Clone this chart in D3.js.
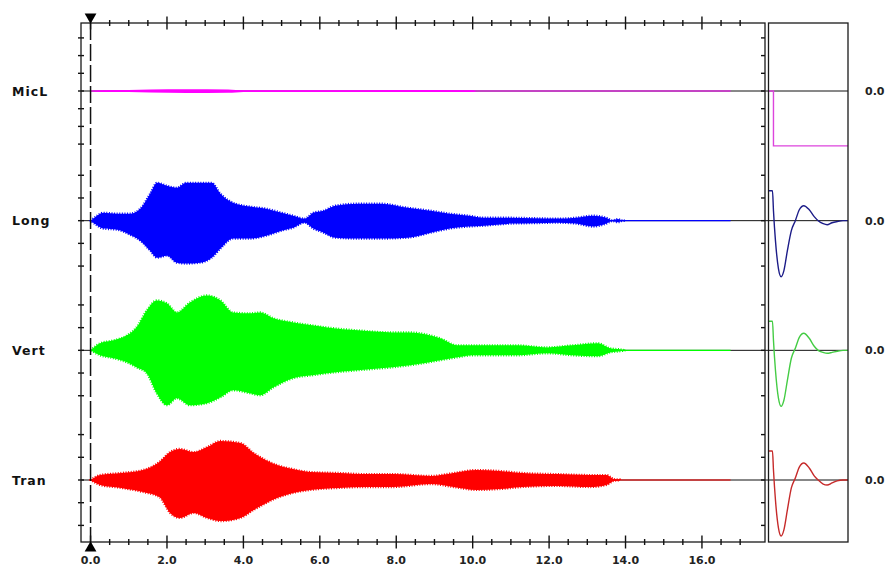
<!DOCTYPE html>
<html>
<head>
<meta charset="utf-8">
<script src="https://d3js.org/d3.v7.min.js"></script>
<style>
    body { margin: 0; background: #fff; }
    svg { display: block; }
    .chanLabel { font-family: "DejaVu Sans", Verdana, sans-serif; font-weight: bold; font-size: 12.5px; fill: #111; letter-spacing: 1px; }
    .tickLabel { font-family: "DejaVu Sans", Verdana, sans-serif; font-weight: bold; font-size: 11px; fill: #222; }
    .frame { fill: none; stroke: #1a1a1a; stroke-width: 1.3; }
    .zero { stroke: #111; stroke-width: 1; }
    .tick { stroke: #111; stroke-width: 1.4; }
    .fuzz { fill: none; stroke-width: 2.2; stroke-dasharray: 1, 1.6; }
    #cursor { stroke: #111; stroke-width: 1.5; stroke-dasharray: 17,4; }
</style>
</head>
<body>
<div id="chart"></div>
<script>

    /* DATA */
    var channels = ['MicL', 'Long', 'Vert', 'Tran'];
    var traceColors = ['#ff00ff', '#0000ff', '#00ff00', '#ff0000'];
    var impulseColors = ['#dd44dd', '#1c1c88', '#44cc44', '#c62a2a'];
    var tickCounts = [3, 2, 2, 2];          // ticks each side of the zero line
    var xTickLabels = ['0.0', '2.0', '4.0', '6.0', '8.0', '10.0', '12.0', '14.0', '16.0'];
    var recordEnd = 16.75;                  // seconds
    var zeroLabel = '0.0';

    // envelopes (seconds, upper, lower) in tick units
    var miclT  = [0, 0.3, 1.0, 1.56, 2.5, 3.6, 4.0, 6.0, 8.0, 10.0, 10.1];
    var miclUp = [0, 0.04, 0.05, 0.08, 0.1, 0.08, 0.04, 0.04, 0.06, 0.04, 0];
    var miclLo = [0, -0.06, -0.06, -0.09, -0.12, -0.1, -0.05, -0.05, -0.05, -0.06, 0];

    var longT  = [0, 0.1, 0.33, 0.7, 1.03, 1.3, 1.56, 1.74, 2.0, 2.26, 2.5, 2.87, 3.17, 3.4, 3.73, 4.17, 4.6, 5.0, 5.3, 5.6,
                  5.83, 6.1, 6.4, 7.0, 7.6, 8.3, 8.9, 9.4, 9.9, 10.3, 11.0, 11.6, 12.2, 12.7, 13.15, 13.5, 13.65, 13.8, 13.9, 14.0];
    var longUp = [0, 0.13, 0.35, 0.31, 0.31, 0.53, 1.19, 1.67, 1.54, 1.45, 1.67, 1.67, 1.67, 1.19, 0.79, 0.62, 0.53, 0.35, 0.22, 0.09,
                  0.35, 0.44, 0.66, 0.75, 0.75, 0.57, 0.44, 0.31, 0.22, 0.13, 0.13, 0.11, 0.09, 0.13, 0.22, 0.13, 0.02, 0.07, 0.02, 0];
    var longLo = [0, -0.13, -0.35, -0.4, -0.62, -0.88, -1.32, -1.63, -1.54, -1.85, -1.89, -1.85, -1.63, -1.23, -0.79, -0.79, -0.66, -0.44, -0.31, -0.09,
                  -0.35, -0.53, -0.75, -0.79, -0.79, -0.75, -0.53, -0.35, -0.26, -0.22, -0.13, -0.11, -0.09, -0.13, -0.26, -0.13, -0.02, -0.07, -0.02, 0];

    var vertT  = [0, 0.25, 0.6, 0.95, 1.2, 1.47, 1.73, 2.0, 2.26, 2.6, 3.05, 3.4, 3.73, 4.17, 4.44, 4.79, 5.3, 5.8, 6.19, 7.0,
                  7.9, 8.36, 9.15, 9.6, 10.0, 10.6, 11.16, 11.95, 12.6, 13.28, 13.6, 13.87, 14.0];
    var vertUp = [0, 0.31, 0.44, 0.66, 1.01, 1.76, 2.2, 2.07, 1.67, 2.11, 2.42, 2.2, 1.67, 1.63, 1.67, 1.41, 1.23, 1.1, 1.01, 0.88,
                  0.79, 0.79, 0.53, 0.22, 0.22, 0.22, 0.22, 0.13, 0.22, 0.31, 0.09, 0.04, 0];
    var vertLo = [0, -0.22, -0.35, -0.53, -0.75, -1.01, -1.89, -2.42, -2.11, -2.42, -2.33, -2.07, -1.76, -1.89, -1.98, -1.63, -1.23, -1.1, -1.01, -0.88,
                  -0.75, -0.66, -0.44, -0.31, -0.22, -0.22, -0.22, -0.13, -0.22, -0.26, -0.09, -0.04, 0];

    var tranT  = [0, 0.25, 0.8, 1.37, 1.8, 2.08, 2.34, 2.7, 3.05, 3.4, 3.92, 4.27, 4.88, 5.3, 5.75, 6.5, 7.2, 7.93,
                  8.9, 9.5, 10.1, 10.7, 11.3, 12.2, 13.07, 13.5, 13.7, 13.85];
    var tranUp = [0, 0.22, 0.31, 0.44, 0.79, 1.23, 1.37, 1.23, 1.45, 1.72, 1.63, 1.19, 0.66, 0.48, 0.35, 0.31, 0.26, 0.26,
                  0.18, 0.31, 0.44, 0.4, 0.31, 0.26, 0.22, 0.22, 0.04, 0.02];
    var tranLo = [0, -0.22, -0.35, -0.53, -0.75, -1.45, -1.67, -1.45, -1.67, -1.81, -1.67, -1.32, -0.79, -0.57, -0.44, -0.35, -0.31, -0.31,
                  -0.18, -0.31, -0.44, -0.4, -0.31, -0.26, -0.31, -0.22, -0.04, -0.02];

    // impulse responses in the right panel (ms, tick units)
    var miclImpT = [0, 5, 5, 80];
    var miclImp  = [0, 0, -3.1, -3.1];
    var impT    = [0, 4, 5, 7, 10, 12.7, 15.5, 19, 23, 27, 31, 35.5, 41, 46, 50, 55, 59, 64, 69, 75, 80];
    var longImp = [1.32, 1.32, 0.44, -0.88, -2.11, -2.47, -2.2, -1.32, -0.44, 0, 0.48, 0.66, 0.48, 0.18, 0, -0.13, -0.18, -0.09, -0.04, 0, 0];
    var vertImp = [1.28, 1.28, 0.44, -0.88, -2.11, -2.47, -2.2, -1.32, -0.35, 0.09, 0.57, 0.75, 0.53, 0.18, 0, -0.09, -0.13, -0.09, -0.04, 0, 0];
    var tranImp = [1.28, 1.28, 0.44, -0.88, -2.11, -2.47, -2.2, -1.32, -0.35, 0.09, 0.57, 0.75, 0.53, 0.18, 0, -0.18, -0.22, -0.13, -0.04, 0, 0];

    /* END DATA */

    var envelopes = [
        { t: miclT, up: miclUp, lo: miclLo },
        { t: longT, up: longUp, lo: longLo },
        { t: vertT, up: vertUp, lo: vertLo },
        { t: tranT, up: tranUp, lo: tranLo }
    ];
    var impulses = [
        { t: miclImpT, v: miclImp },
        { t: impT, v: longImp },
        { t: impT, v: vertImp },
        { t: impT, v: tranImp }
    ];

    var width = 886, height = 568;
    var plot = { left: 81, right: 765, top: 23, bottom: 542 };
    var panel = { left: 768.5, right: 848 };

    var x = d3.scaleLinear().domain([-0.25, 17.65]).range([plot.left, plot.right]);
    var xImp = d3.scaleLinear().domain([0, 80]).range([panel.left, panel.right]);
    var center = d3.scalePoint().domain(channels).range([91, 480]);

    function channelScale(i) {
        var c = center(channels[i]);
        var unit = i == 0 ? 17.7 : 22.7;
        return d3.scaleLinear().domain([-1, 1]).range([c + unit, c - unit]);
    }

    var svg = d3.select('#chart').append('svg')
                .attr('width', width)
                .attr('height', height);

    svg.append('defs').append('clipPath').attr('id', 'panelClip')
       .append('rect')
       .attr('x', panel.left).attr('y', plot.top)
       .attr('width', panel.right - panel.left).attr('height', plot.bottom - plot.top);

    // zero lines across plot and panel
    svg.selectAll('.zero').data(channels).enter()
       .append('line')
       .attr('class', 'zero')
       .attr('x1', plot.left).attr('x2', panel.right)
       .attr('y1', function(d) { return center(d) })
       .attr('y2', function(d) { return center(d) });

    // traces
    channels.forEach(function(name, i) {
        var y = channelScale(i);
        var env = envelopes[i];
        var pts = env.t.map(function(t, k) { return { t: t, up: env.up[k], lo: env.lo[k] } });

        svg.append('line')
           .attr('x1', x(0)).attr('x2', x(recordEnd))
           .attr('y1', y(0)).attr('y2', y(0))
           .attr('stroke', traceColors[i])
           .attr('stroke-width', 1.2);

        var area = d3.area()
                     .x(function(d) { return x(d.t) })
                     .y0(function(d) { return y(d.lo) })
                     .y1(function(d) { return y(d.up) })
                     .curve(d3.curveMonotoneX);

        svg.append('path')
           .datum(pts)
           .attr('d', area)
           .attr('fill', traceColors[i]);

        // ragged outline so the dense oscillation edge is not too clean
        if (i > 0) {
            svg.append('path')
               .datum(pts)
               .attr('class', 'fuzz')
               .attr('d', area)
               .attr('stroke', traceColors[i]);
        }

        // impulse response in the side panel
        var imp = impulses[i];
        var ipts = imp.t.map(function(t, k) { return [t, imp.v[k]] });
        var line = d3.line()
                     .x(function(d) { return xImp(d[0]) })
                     .y(function(d) { return y(d[1]) })
                     .curve(i == 0 ? d3.curveLinear : d3.curveMonotoneX);

        svg.append('path')
           .datum(ipts)
           .attr('d', line)
           .attr('clip-path', 'url(#panelClip)')
           .attr('fill', 'none')
           .attr('stroke', impulseColors[i])
           .attr('stroke-width', 1.4);

        // left and right ticks
        var ticks = d3.range(-tickCounts[i], tickCounts[i] + 1);
        svg.selectAll('.ytick' + i).data(ticks).enter()
           .append('line')
           .attr('class', 'tick')
           .attr('x1', plot.left - 3).attr('x2', plot.left + 3)
           .attr('y1', function(d) { return y(d) }).attr('y2', function(d) { return y(d) });
        svg.selectAll('.ytickR' + i).data(ticks).enter()
           .append('line')
           .attr('class', 'tick')
           .attr('x1', plot.right - 4).attr('x2', plot.right)
           .attr('y1', function(d) { return y(d) }).attr('y2', function(d) { return y(d) });

        svg.append('text')
           .attr('class', 'chanLabel')
           .attr('x', 12)
           .attr('y', y(0) + 4.5)
           .text(name);

        svg.append('text')
           .attr('class', 'tickLabel')
           .attr('x', 865)
           .attr('y', y(0) + 4)
           .text(zeroLabel);
    });

    // frames
    svg.append('rect').attr('class', 'frame')
       .attr('x', plot.left).attr('y', plot.top)
       .attr('width', plot.right - plot.left).attr('height', plot.bottom - plot.top);
    svg.append('rect').attr('class', 'frame')
       .attr('x', panel.left).attr('y', plot.top)
       .attr('width', panel.right - panel.left).attr('height', plot.bottom - plot.top);

    // time ticks, top and bottom, crossing the frame
    var minor = d3.range(0, 17.01, 0.5);
    [plot.top, plot.bottom].forEach(function(yy) {
        svg.append('g').selectAll('line').data(minor).enter()
           .append('line')
           .attr('class', 'tick')
           .attr('x1', function(d) { return x(d) }).attr('x2', function(d) { return x(d) })
           .attr('y1', function(d) { return d % 2 == 0 ? yy - 6.5 : yy - 3 })
           .attr('y2', function(d) { return d % 2 == 0 ? yy + 6.5 : yy + 3 });
    });

    svg.append('g').selectAll('text').data(xTickLabels).enter()
       .append('text')
       .attr('class', 'tickLabel')
       .attr('text-anchor', 'middle')
       .attr('x', function(d) { return x(+d) })
       .attr('y', 564)
       .text(function(d) { return d });

    // cursor at t = 0
    svg.append('line')
       .attr('id', 'cursor')
       .attr('x1', x(0)).attr('x2', x(0))
       .attr('y1', plot.top).attr('y2', plot.bottom);

    var tri = d3.symbol().type(d3.symbolTriangle).size(60);
    svg.append('path')
       .attr('d', tri)
       .attr('transform', 'translate(' + x(0) + ',' + (plot.top - 6) + ') rotate(180)')
       .attr('fill', '#000');
    svg.append('path')
       .attr('d', tri)
       .attr('transform', 'translate(' + x(0) + ',' + (plot.bottom + 6) + ')')
       .attr('fill', '#000');

</script>
</body>
</html>
